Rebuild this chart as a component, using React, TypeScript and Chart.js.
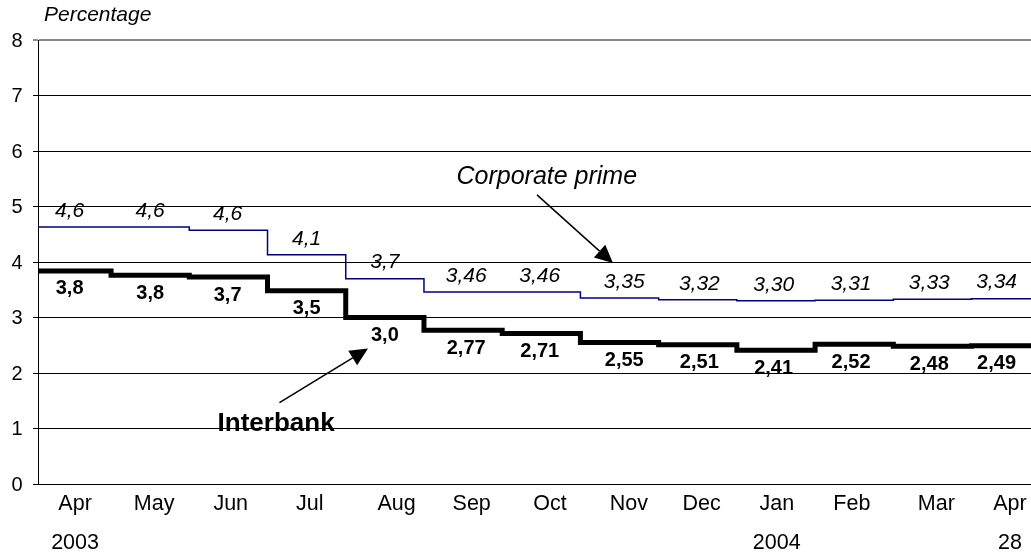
import React, { useEffect, useRef } from "react";
import { Chart, registerables } from "chart.js";

Chart.register(...registerables);

// ---- data ----
const monthNames = ["Apr", "May", "Jun", "Jul", "Aug", "Sep", "Oct", "Nov", "Dec", "Jan", "Feb", "Mar", "Apr"];
const yearLines = ["2003", "", "", "", "", "", "", "", "", "2004", "", "", "28"];
// month index of each month's start (Apr 2003 = 0)
const monthStarts = [0, 1, 2, 3, 4, 5, 6, 7, 8, 9, 10, 11, 12];
const xStart = 0.066;
const xEnd = 12.76;
// position (month index) of each axis label
const tickPositions = [0.54, 1.55, 2.53, 3.54, 4.65, 5.61, 6.61, 7.62, 8.55, 9.51, 10.47, 11.55, 12.49];
// position (month index) of each value label
const valueLabelPositions = [0.47, 1.5, 2.49, 3.5, 4.5, 5.54, 6.48, 7.56, 8.52, 9.47, 10.46, 11.46, 12.32];

const corporatePrime = [4.63, 4.63, 4.57, 4.13, 3.7, 3.46, 3.46, 3.35, 3.32, 3.3, 3.31, 3.33, 3.34];
const corporateLabels = ["4,6", "4,6", "4,6", "4,1", "3,7", "3,46", "3,46", "3,35", "3,32", "3,30", "3,31", "3,33", "3,34"];
const interbank = [3.84, 3.76, 3.73, 3.48, 3.0, 2.77, 2.71, 2.55, 2.51, 2.41, 2.52, 2.48, 2.49];
const interbankLabels = ["3,8", "3,8", "3,7", "3,5", "3,0", "2,77", "2,71", "2,55", "2,51", "2,41", "2,52", "2,48", "2,49"];

const yTicks = [0, 1, 2, 3, 4, 5, 6, 7, 8];

// annotations in data units (month index, percentage)
const corporateNote = { text: "Corporate prime", x: 6.57, y: 5.4 };
const corporateArrow = { x1: 6.445, y1: 5.21, x2: 7.416, y2: 3.98 };
const interbankNote = { text: "Interbank", x: 3.11, y: 0.955 };
const interbankArrow = { x1: 3.153, y1: 1.465, x2: 4.285, y2: 2.44 };

const FONT = '"Liberation Sans", Arial, Helvetica, sans-serif';

function stepData(values: number[]) {
  const pts = monthStarts.map((x, i) => ({ x, y: values[i] }));
  pts.push({ x: xEnd, y: values[values.length - 1] });
  return pts;
}

function drawArrow(ctx: CanvasRenderingContext2D, x1: number, y1: number, x2: number, y2: number) {
  const dx = x2 - x1;
  const dy = y2 - y1;
  const len = Math.hypot(dx, dy);
  const ux = dx / len;
  const uy = dy / len;
  const headLen = 18;
  const halfW = 8.5;
  const bx = x2 - ux * headLen;
  const by = y2 - uy * headLen;
  ctx.beginPath();
  ctx.moveTo(x1, y1);
  ctx.lineTo(bx, by);
  ctx.lineWidth = 1.5;
  ctx.strokeStyle = "#000";
  ctx.stroke();
  ctx.beginPath();
  ctx.moveTo(x2, y2);
  ctx.lineTo(bx - uy * halfW, by + ux * halfW);
  ctx.lineTo(bx + uy * halfW, by - ux * halfW);
  ctx.closePath();
  ctx.fillStyle = "#000";
  ctx.fill();
}

const overlayPlugin = {
  id: "overlay",
  afterDatasetsDraw(chart: any) {
    const { ctx, chartArea } = chart;
    const xs = chart.scales.x;
    const ys = chart.scales.y;
    ctx.save();
    ctx.fillStyle = "#000";

    // y axis labels
    ctx.font = `20px ${FONT}`;
    ctx.textAlign = "right";
    ctx.textBaseline = "middle";
    yTicks.forEach((v) => {
      ctx.fillText(String(v), chartArea.left - 15.5, ys.getPixelForValue(v) + 1);
    });

    // x axis labels
    ctx.font = `21.5px ${FONT}`;
    ctx.textAlign = "center";
    ctx.textBaseline = "alphabetic";
    tickPositions.forEach((p, i) => {
      const px = xs.getPixelForValue(p);
      ctx.fillText(monthNames[i], px, chartArea.bottom + 26);
      if (yearLines[i]) ctx.fillText(yearLines[i], px, chartArea.bottom + 65);
    });

    // axis title
    ctx.font = `italic 21px ${FONT}`;
    ctx.textAlign = "left";
    ctx.fillText("Percentage", chartArea.left + 6, chartArea.top - 19);

    // value labels
    ctx.textAlign = "center";
    ctx.textBaseline = "middle";
    ctx.font = `italic 21px ${FONT}`;
    corporateLabels.forEach((t, i) => {
      ctx.fillText(t, xs.getPixelForValue(valueLabelPositions[i]), ys.getPixelForValue(corporatePrime[i]) - 16);
    });
    ctx.font = `bold 20px ${FONT}`;
    interbankLabels.forEach((t, i) => {
      ctx.fillText(t, xs.getPixelForValue(valueLabelPositions[i]), ys.getPixelForValue(interbank[i]) + 18);
    });

    // annotations
    ctx.textBaseline = "alphabetic";
    ctx.font = `italic 25px ${FONT}`;
    ctx.fillText(corporateNote.text, xs.getPixelForValue(corporateNote.x), ys.getPixelForValue(corporateNote.y));
    ctx.font = `bold 26px ${FONT}`;
    ctx.fillText(interbankNote.text, xs.getPixelForValue(interbankNote.x), ys.getPixelForValue(interbankNote.y));

    drawArrow(
      ctx,
      xs.getPixelForValue(corporateArrow.x1),
      ys.getPixelForValue(corporateArrow.y1),
      xs.getPixelForValue(corporateArrow.x2),
      ys.getPixelForValue(corporateArrow.y2)
    );
    drawArrow(
      ctx,
      xs.getPixelForValue(interbankArrow.x1),
      ys.getPixelForValue(interbankArrow.y1),
      xs.getPixelForValue(interbankArrow.x2),
      ys.getPixelForValue(interbankArrow.y2)
    );

    ctx.restore();
  },
};

export default function App() {
  const canvasRef = useRef<HTMLCanvasElement | null>(null);

  useEffect(() => {
    const canvas = canvasRef.current;
    if (!canvas) return;
    const chart = new Chart(canvas, {
      type: "line",
      data: {
        datasets: [
          {
            label: "Corporate prime",
            data: stepData(corporatePrime),
            borderColor: "#000080",
            borderWidth: 1.5,
            stepped: true,
            pointRadius: 0,
            fill: false,
            clip: 0,
          },
          {
            label: "Interbank",
            data: stepData(interbank),
            borderColor: "#000",
            borderWidth: 5,
            stepped: true,
            pointRadius: 0,
            fill: false,
            clip: 0,
          },
        ],
      },
      options: {
        responsive: false,
        animation: false,
        layout: { padding: { left: 33, top: 40, right: 0, bottom: 74 } },
        plugins: {
          legend: { display: false },
          tooltip: { enabled: false },
        },
        scales: {
          x: {
            type: "linear",
            min: xStart,
            max: xEnd,
            display: false,
          },
          y: {
            min: 0,
            max: 8,
            ticks: { stepSize: 1, display: false },
            grid: {
              color: (c: any) => (c.tick && c.tick.value === 8 ? "#8a8a8a" : "#000"),
              lineWidth: (c: any) => (c.tick && c.tick.value === 8 ? 2 : 1),
              drawTicks: true,
              tickLength: 5,
            },
            border: { display: true, color: "#000", width: 1 },
          },
        },
      },
      plugins: [overlayPlugin],
    });
    return () => chart.destroy();
  }, []);

  return (
    <div style={{ position: "absolute", left: 0, top: 0, width: 1031, height: 558, background: "#fff" }}>
      <canvas ref={canvasRef} width={1031} height={558} style={{ display: "block" }} />
    </div>
  );
}
